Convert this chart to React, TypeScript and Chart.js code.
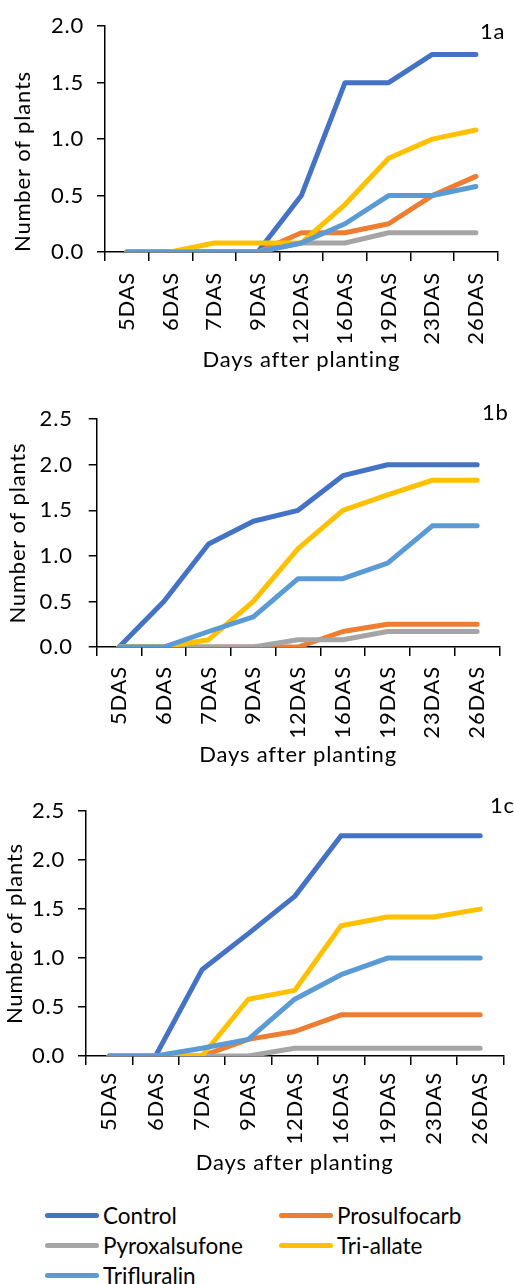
import React, { useEffect, useRef } from "react";
import { Chart, registerables } from "chart.js";

Chart.register(...registerables);

// Sampling days (days after sowing)
const days = ["5DAS", "6DAS", "7DAS", "9DAS", "12DAS", "16DAS", "19DAS", "23DAS", "26DAS"];

const treatments = ["Control", "Prosulfocarb", "Pyroxalsufone", "Tri-allate", "Trifluralin"];
const treatmentColors = ["#4472C4", "#ED7D31", "#A5A5A5", "#FFC000", "#5B9BD5"];

// Panel 1a
const control1a = [0, 0, 0, 0, 0.5, 1.5, 1.5, 1.75, 1.75];
const prosulfocarb1a = [0, 0, 0, 0, 0.17, 0.17, 0.25, 0.5, 0.67];
const pyroxasulfone1a = [0, 0, 0, 0, 0.08, 0.08, 0.17, 0.17, 0.17];
const triallate1a = [0, 0, 0.08, 0.08, 0.08, 0.42, 0.83, 1.0, 1.08];
const trifluralin1a = [0, 0, 0, 0, 0.08, 0.25, 0.5, 0.5, 0.58];

// Panel 1b
const control1b = [0, 0.5, 1.13, 1.38, 1.5, 1.88, 2.0, 2.0, 2.0];
const prosulfocarb1b = [0, 0, 0, 0, 0, 0.17, 0.25, 0.25, 0.25];
const pyroxasulfone1b = [0, 0, 0, 0, 0.08, 0.08, 0.17, 0.17, 0.17];
const triallate1b = [0, 0, 0.08, 0.5, 1.08, 1.5, 1.67, 1.83, 1.83];
const trifluralin1b = [0, 0, 0.17, 0.33, 0.75, 0.75, 0.92, 1.33, 1.33];

// Panel 1c
const control1c = [0, 0, 0.88, 1.25, 1.63, 2.25, 2.25, 2.25, 2.25];
const prosulfocarb1c = [0, 0, 0, 0.17, 0.25, 0.42, 0.42, 0.42, 0.42];
const pyroxasulfone1c = [0, 0, 0, 0, 0.08, 0.08, 0.08, 0.08, 0.08];
const triallate1c = [0, 0, 0, 0.58, 0.67, 1.33, 1.42, 1.42, 1.5];
const trifluralin1c = [0, 0, 0.08, 0.17, 0.58, 0.83, 1.0, 1.0, 1.0];

const FONT = "Lato, 'Open Sans', sans-serif";
const FONT_SIZE = 22;
const LETTER_SPACING = "0.8px";

type Panel = {
  tag: string;
  series: number[][];
  yMax: number;
  top: number;
  height: number;
  padTop: number;
  padRight: number;
  yWidth: number;
  yLabelPad: number;
  yTitlePad: number;
  yTitleAlign: "start" | "center";
  xLabelPad: number;
  xTitlePad: number;
  tagX: number;
  tagY: number;
};

const panels: Panel[] = [
  {
    tag: "1a",
    series: [control1a, prosulfocarb1a, pyroxasulfone1a, triallate1a, trifluralin1a],
    yMax: 2.0,
    top: 0,
    height: 380,
    padTop: 23,
    padRight: 12.3,
    yWidth: 105,
    yLabelPad: 13,
    yTitlePad: 9.5,
    yTitleAlign: "start",
    xLabelPad: 11,
    xTitlePad: 6.8,
    tagX: 480,
    tagY: 32,
  },
  {
    tag: "1b",
    series: [control1b, prosulfocarb1b, pyroxasulfone1b, triallate1b, trifluralin1b],
    yMax: 2.5,
    top: 390,
    height: 384.7,
    padTop: 11.7,
    padRight: 8.3,
    yWidth: 96.7,
    yLabelPad: 16,
    yTitlePad: 4.8,
    yTitleAlign: "center",
    xLabelPad: 10,
    xTitlePad: 6.8,
    tagX: 482,
    tagY: 23,
  },
  {
    tag: "1c",
    series: [control1c, prosulfocarb1c, pyroxasulfone1c, triallate1c, trifluralin1c],
    yMax: 2.5,
    top: 785,
    height: 398.7,
    padTop: 12,
    padRight: 7.3,
    yWidth: 86,
    yLabelPad: 13,
    yTitlePad: 1.8,
    yTitleAlign: "center",
    xLabelPad: 7,
    xTitlePad: 7.8,
    tagX: 490,
    tagY: 20.5,
  },
];

function PanelChart({ panel }: { panel: Panel }) {
  const ref = useRef<HTMLCanvasElement | null>(null);

  useEffect(() => {
    if (!ref.current) return;
    const font = { family: FONT, size: FONT_SIZE };
    const n = treatments.length;

    // Slightly wider text tracking for all canvas labels
    const spacingPlugin = {
      id: "textSpacing",
      beforeUpdate(chart: Chart) {
        (chart.ctx as any).letterSpacing = LETTER_SPACING;
      },
      beforeDraw(chart: Chart) {
        (chart.ctx as any).letterSpacing = LETTER_SPACING;
      },
    };

    // Panel tag in the upper right corner of the plot
    const tagPlugin = {
      id: "panelTag",
      afterDraw(chart: Chart) {
        const ctx = chart.ctx;
        ctx.save();
        ctx.font = `${FONT_SIZE}px ${FONT}`;
        ctx.fillStyle = "#000";
        ctx.textAlign = "left";
        ctx.textBaseline = "middle";
        ctx.fillText(panel.tag, panel.tagX, panel.tagY);
        ctx.restore();
      },
    };

    const chart = new Chart(ref.current, {
      type: "line",
      data: {
        labels: days,
        datasets: treatments.map((name, i) => ({
          label: name,
          data: panel.series[i],
          borderColor: treatmentColors[i],
          backgroundColor: treatmentColors[i],
          borderWidth: 5,
          borderCapStyle: "round" as const,
          borderJoinStyle: "round" as const,
          pointRadius: 0,
          tension: 0,
          fill: false,
          order: n - i,
        })),
      },
      options: {
        animation: false,
        responsive: false,
        events: [],
        layout: {
          padding: { top: panel.padTop, right: panel.padRight, left: 0, bottom: 0 },
        },
        plugins: {
          legend: { display: false },
          tooltip: { enabled: false },
        },
        scales: {
          x: {
            type: "category",
            offset: true,
            grid: {
              offset: true,
              drawOnChartArea: false,
              drawTicks: true,
              tickLength: 9,
              color: "#000",
              lineWidth: 1.5,
            },
            border: { display: true, color: "#000", width: 1.5 },
            ticks: {
              maxRotation: 90,
              minRotation: 90,
              padding: panel.xLabelPad,
              color: "#000",
              font,
              autoSkip: false,
            },
            title: {
              display: true,
              text: "Days after planting",
              color: "#000",
              font,
              padding: { top: 0, bottom: panel.xTitlePad },
            },
            afterFit: (scale: any) => {
              scale.height = 128;
            },
          },
          y: {
            min: 0,
            max: panel.yMax,
            grid: {
              drawOnChartArea: false,
              drawTicks: true,
              tickLength: 8,
              color: "#000",
              lineWidth: 1.5,
            },
            border: { display: true, color: "#000", width: 1.5 },
            ticks: {
              stepSize: 0.5,
              padding: panel.yLabelPad,
              color: "#000",
              font,
              callback: (v: any) => Number(v).toFixed(1),
            },
            title: {
              display: true,
              text: "Number of plants",
              color: "#000",
              font,
              align: panel.yTitleAlign,
              padding: { top: panel.yTitlePad, bottom: 0 },
            },
            afterFit: (scale: any) => {
              scale.width = panel.yWidth;
            },
          },
        },
      },
      plugins: [spacingPlugin, tagPlugin],
    });
    return () => chart.destroy();
  }, [panel]);

  return (
    <canvas
      ref={ref}
      width={514}
      height={Math.round(panel.height)}
      style={{ position: "absolute", left: 0, top: panel.top, width: 514, height: Math.round(panel.height) }}
    />
  );
}

// Legend rows: two columns, three rows
const legendCols = [45, 279];
const legendRows = [1215.7, 1245.7, 1275];

function Legend() {
  return (
    <>
      {treatments.map((name, i) => {
        const x = legendCols[i % 2];
        const y = legendRows[Math.floor(i / 2)];
        return (
          <div
            key={name}
            style={{
              position: "absolute",
              left: x,
              top: y - 15,
              height: 30,
              display: "flex",
              alignItems: "center",
              fontFamily: FONT,
              fontSize: 22.5,
              color: "#000",
              whiteSpace: "nowrap",
            }}
          >
            <span
              style={{
                display: "inline-block",
                width: 54,
                height: 5,
                borderRadius: 3,
                background: treatmentColors[i],
                marginRight: 4,
              }}
            />
            <span>{name}</span>
          </div>
        );
      })}
    </>
  );
}

export default function App() {
  return (
    <div style={{ position: "absolute", left: 0, top: 0, width: 514, height: 1284, background: "#fff", overflow: "hidden" }}>
      {panels.map((p) => (
        <PanelChart key={p.tag} panel={p} />
      ))}
      <Legend />
    </div>
  );
}
